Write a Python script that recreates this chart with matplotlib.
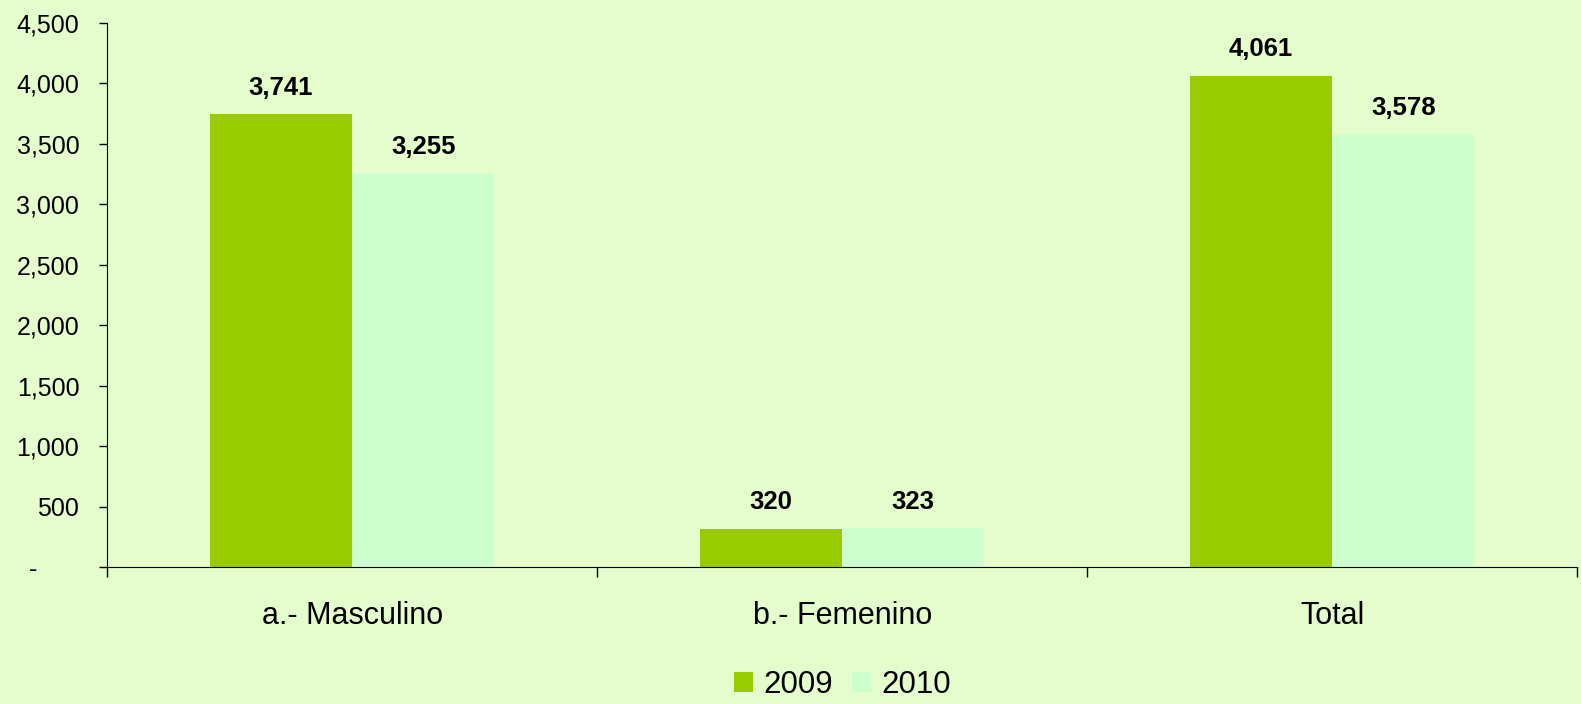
import numpy as np
import matplotlib
matplotlib.use('Agg')
from matplotlib import pyplot as plt
from matplotlib.ticker import FuncFormatter

plt.rcParams['font.family'] = ['Liberation Sans', 'DejaVu Sans']

# Data
categories = ['a.- Masculino', 'b.- Femenino', 'Total']
years = ['2009', '2010']
vals_2009 = [3741, 320, 4061]
vals_2010 = [3255, 323, 3578]
colors = ['#99CC00', '#CCFFCC']
bg = '#E5FCCC'

fig = plt.figure(figsize=(15.81, 7.04), dpi=100, facecolor=bg)
ax = fig.add_axes([0.0677, 0.194, 0.930, 0.774], facecolor=bg)

x = np.arange(len(categories))
w = 0.29
b1 = ax.bar(x - w / 2, vals_2009, w, color=colors[0], label=years[0])
b2 = ax.bar(x + w / 2, vals_2010, w, color=colors[1], label=years[1])

for bars in (b1, b2):
    for r in bars:
        ax.text(r.get_x() + r.get_width() / 2, r.get_height() + 120,
                '{:,}'.format(int(r.get_height())), ha='center', va='bottom',
                fontsize=18.5, fontweight='bold')

ax.set_ylim(0, 4500)
ax.set_yticks(np.arange(0, 4501, 500))
ax.yaxis.set_major_formatter(FuncFormatter(lambda v, p: '-      ' if v == 0 else '{:,.0f}'.format(v)))
ax.set_xlim(-0.5, 2.5)
ax.set_xticks(x)
ax.set_xticklabels(categories, fontsize=22)
ax.tick_params(axis='x', length=0, pad=24)
ax.set_xticks([0.5, 1.5, 2.5, -0.5], minor=True)
ax.tick_params(axis='x', which='minor', length=7, width=1)
ax.tick_params(axis='y', labelsize=18, length=6, width=1, pad=14)

for s in ['top', 'right']:
    ax.spines[s].set_visible(False)

ax.legend(loc='lower center', bbox_to_anchor=(0.5, -0.295), ncol=2, frameon=False,
          fontsize=22.5, handlelength=0.62, handleheight=0.62, handletextpad=0.32,
          columnspacing=0.6)

plt.savefig('out.png', dpi=100, facecolor=bg)
